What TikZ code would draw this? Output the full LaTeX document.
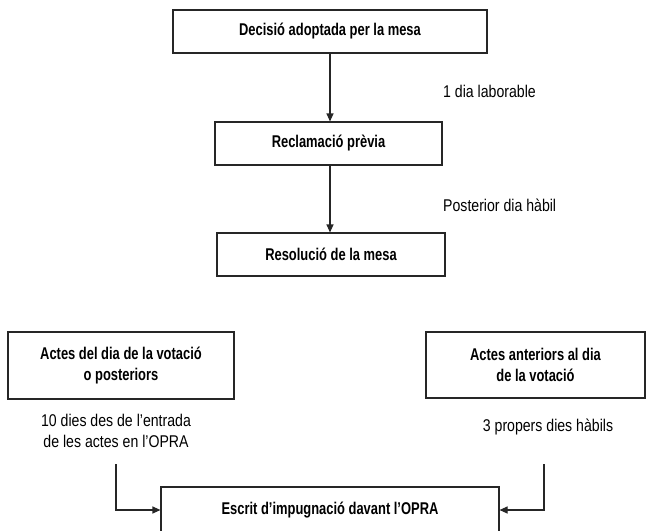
\documentclass[tikz,border=0pt]{standalone}
\usepackage{fontspec}
\setmainfont{Liberation Sans}[FakeStretch=0.83,BoldFeatures={FakeStretch=0.76}]
\usetikzlibrary{arrows.meta}
\begin{document}
\begin{tikzpicture}[x=1pt,y=-1pt,
  box/.style={draw=black!85,line width=1.1pt,rectangle,inner sep=0pt,align=center,font=\fontsize{17}{21}\selectfont\bfseries},
  lbl/.style={inner sep=0pt,align=center,font=\fontsize{17}{21}\selectfont},
  conn/.style={draw=black!85,line width=1.1pt,-{Triangle[length=8pt,width=7pt]}}]
\useasboundingbox (0,0) rectangle (647,530);
\node[box,minimum width=314pt,minimum height=43pt] (b1) at (330,31.5) {Decisió adoptada per la mesa};
\node[box,minimum width=227pt,minimum height=43pt] (b2) at (328.5,143.5) {Reclamació prèvia};
\node[box,minimum width=228pt,minimum height=43pt] (b3) at (331,254.5) {Resolució de la mesa};
\node[box,minimum width=226pt,minimum height=67pt] (b4) at (121,365.5) {Actes del dia de la votació\\o posteriors};
\node[box,minimum width=219pt,minimum height=66pt] (b5) at (535.5,365) {Actes anteriors al dia\\de la votació};
\node[box,minimum width=338pt,minimum height=46pt] (b6) at (330,510) {Escrit d’impugnació davant l’OPRA};
\node[lbl,anchor=west] (l1) at (443,91) {1 dia laborable};
\node[lbl,anchor=west] (l2) at (443,205) {Posterior dia hàbil};
\node[lbl] (l3) at (116,430.5) {10 dies des de l’entrada\\de les actes en l’OPRA};
\node[lbl] (l4) at (548,427) {3 propers dies hàbils};
\coordinate (c1) at (116,464);
\coordinate (c2) at (544,464);
\draw[conn] (330,0 |- b1.south) -- (330,0 |- b2.north);
\draw[conn] (330,0 |- b2.south) -- (330,0 |- b3.north);
\draw[conn] (c1) |- (b6.west);
\draw[conn] (c2) |- (b6.east);
\end{tikzpicture}
\end{document}
